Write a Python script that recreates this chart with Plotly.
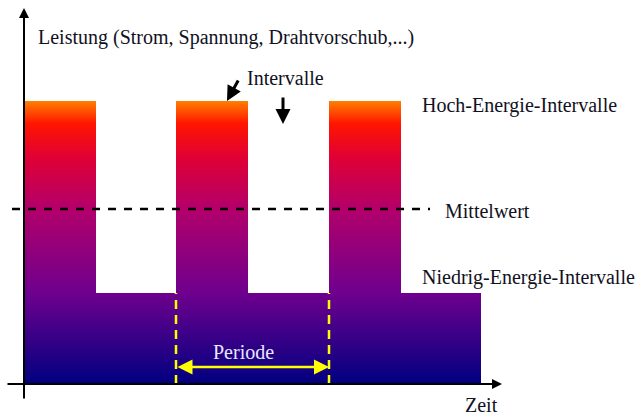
import plotly.graph_objects as go

# Zeitachse: Grenzen der Intervalle, Leistung je Intervall
intervall_grenzen = [0, 72, 152, 224, 305, 377, 457]
intervall_leistung = [283, 91, 283, 91, 283, 91]
mittelwert = 175
periode_start = 152
periode_ende = 305

# Farbverlauf (unten -> oben)
verlauf = [
    [0.0, "#000080"],
    [0.32, "#6E008E"],
    [0.62, "#B3006A"],
    [0.80, "#E00035"],
    [0.92, "#FF1500"],
    [1.0, "#FF8000"],
]

serif = "Liberation Serif"

# Stufenkurve aufbauen
xs = [intervall_grenzen[0]]
ys = [0]
for i, v in enumerate(intervall_leistung):
    xs += [intervall_grenzen[i], intervall_grenzen[i + 1]]
    ys += [v, v]
xs.append(intervall_grenzen[-1])
ys.append(0)

fig = go.Figure()
fig.add_trace(go.Scatter(
    x=xs, y=ys, mode="lines", fill="toself",
    line=dict(width=0),
    fillgradient=dict(type="vertical", colorscale=verlauf, start=0, stop=max(intervall_leistung)),
    hoverinfo="skip", showlegend=False))

# Mittelwert
fig.add_trace(go.Scatter(
    x=[-12, 406], y=[mittelwert, mittelwert], mode="lines",
    line=dict(color="black", width=2.5, dash="8px,8px"),
    hoverinfo="skip", showlegend=False))

# Periode (gelbe Hilfslinien)
for xp in [periode_start, periode_ende]:
    fig.add_trace(go.Scatter(
        x=[xp, xp], y=[0, min(intervall_leistung)], mode="lines",
        line=dict(color="#FFFF00", width=2.5, dash="9px,6px"),
        hoverinfo="skip", showlegend=False))

arrows = []
# Achsen
arrows.append(dict(x=0, y=376, ax=0, ay=-16, color="black", width=2, head=2, size=1, side="end"))
arrows.append(dict(x=478, y=0, ax=-18, ay=0, color="black", width=2, head=2, size=1, side="end"))
# Intervalle-Pfeile
arrows.append(dict(x=203, y=283, ax=215, ay=305, color="black", width=3, head=2, size=1, side="end"))
arrows.append(dict(x=259, y=260, ax=259, ay=288, color="black", width=3, head=2, size=1, side="end"))
# Periode-Pfeil
arrows.append(dict(x=periode_ende, y=17, ax=periode_start, ay=17, color="#FFFF00", width=2.5, head=2, size=1.2, side="end+start"))

for a in arrows:
    fig.add_annotation(x=a["x"], y=a["y"], ax=a["ax"], ay=a["ay"], xref="x", yref="y",
                       axref="x", ayref="y", text="", showarrow=True,
                       arrowhead=a["head"], arrowsize=a["size"], arrowwidth=a["width"],
                       arrowcolor=a["color"], arrowside=a["side"], standoff=0, startstandoff=0)

labels = [
    ("Leistung (Strom, Spannung, Drahtvorschub,...)", 12, 347, "left", "#111122"),
    ("Intervalle", 221, 306, "left", "#111122"),
    ("Hoch-Energie-Intervalle", 396, 279, "left", "#111122"),
    ("Mittelwert", 419, 173, "left", "#111122"),
    ("Niedrig-Energie-Intervalle", 396, 107, "left", "#111122"),
    ("Zeit", 457, -21, "center", "#111122"),
    ("Periode", 219, 32, "center", "#E8E8FF"),
]
for text, x, y, anchor, col in labels:
    fig.add_annotation(x=x, y=y, xref="x", yref="y", text=text, showarrow=False,
                       xanchor=anchor, yanchor="middle",
                       font=dict(family=serif, size=20, color=col))

fig.update_layout(
    width=637, height=416,
    margin=dict(l=0, r=0, t=0, b=0),
    paper_bgcolor="white", plot_bgcolor="white",
    xaxis=dict(range=[-24, 613], visible=False, fixedrange=True),
    yaxis=dict(range=[-32, 384], visible=False, fixedrange=True),
)

fig.write_html("out.html", config={"displayModeBar": False},
               post_script="document.body.style.margin='0px';document.body.style.overflow='hidden';")
